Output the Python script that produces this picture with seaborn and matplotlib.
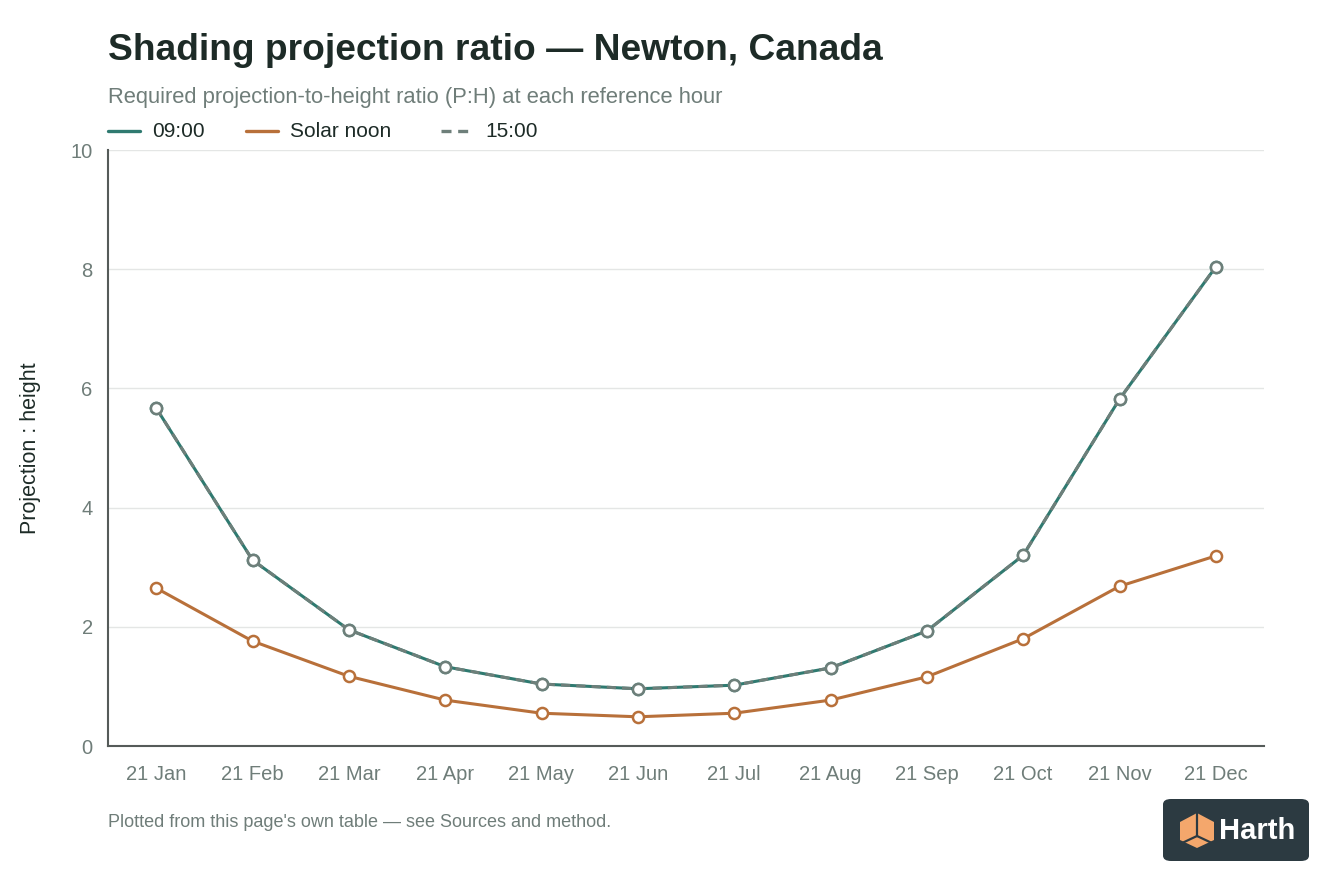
import matplotlib.pyplot as plt
import matplotlib.patches as patches
import pandas as pd
import seaborn as sns

MONTHS = ["21 Jan", "21 Feb", "21 Mar", "21 Apr", "21 May", "21 Jun",
          "21 Jul", "21 Aug", "21 Sep", "21 Oct", "21 Nov", "21 Dec"]
RATIO_0900 = [5.67, 3.12, 1.95, 1.33, 1.04, 0.96, 1.02, 1.31, 1.93, 3.20, 5.82, 8.04]
RATIO_NOON = [2.65, 1.76, 1.17, 0.77, 0.55, 0.49, 0.55, 0.77, 1.16, 1.80, 2.68, 3.19]
RATIO_1500 = [5.67, 3.12, 1.95, 1.33, 1.04, 0.96, 1.02, 1.31, 1.93, 3.20, 5.82, 8.04]
Y_TICKS = [0, 2, 4, 6, 8, 10]

TEAL = "#2f7a70"
ORANGE = "#b8703a"
GREY = "#6e7f7a"
TEXT_DARK = "#1d2b27"
TEXT_GREY = "#6f7d79"


def build_frame():
    rows = []
    for label, values in [("09:00", RATIO_0900), ("Solar noon", RATIO_NOON), ("15:00", RATIO_1500)]:
        for i, v in enumerate(values):
            rows.append({"idx": i, "month": MONTHS[i], "ratio": v, "series": label})
    return pd.DataFrame(rows)


def draw_logo(fig):
    # dark rounded badge bottom right
    x0, y0, w, h = 1163 / 1344, 1 - 861 / 896, 146 / 1344, 62 / 896
    badge = patches.FancyBboxPatch(
        (x0, y0), w, h, boxstyle="round,pad=0,rounding_size=0.006",
        transform=fig.transFigure, facecolor="#2c3a41", edgecolor="none",
    )
    fig.patches.append(badge)
    # simple cube icon
    cx, cy = 1197, 830
    pts = lambda lst: [((cx + dx) / 1344, 1 - (cy + dy) / 896) for dx, dy in lst]
    cube = patches.Polygon(
        pts([(0, -17), (17, -8), (17, 10), (0, 18), (-17, 10), (-17, -8)]),
        closed=True, transform=fig.transFigure, facecolor="#f4a76c", edgecolor="none",
    )
    fig.patches.append(cube)
    for seg in [[(0, -17), (0, 6)], [(0, 6), (-17, 14)], [(0, 6), (17, 14)]]:
        fig.lines.append(plt.Line2D(
            [p[0] for p in pts(seg)], [p[1] for p in pts(seg)],
            transform=fig.transFigure, color="#2c3a41", linewidth=1.6,
        ))
    fig.text(1219 / 1344, 1 - 831 / 896, "Harth", color="white", fontsize=21,
             fontweight="bold", va="center", ha="left")


def create_chart():
    sns.set_theme(style="white")
    plt.rcParams["font.family"] = ["Liberation Sans", "DejaVu Sans"]

    df = build_frame()

    fig = plt.figure(figsize=(13.44, 8.96), dpi=100)
    ax = fig.add_axes([108 / 1344, 1 - 746 / 896, 1156 / 1344, 596 / 896])

    palette = {"09:00": TEAL, "Solar noon": ORANGE, "15:00": GREY}
    dashes = {"09:00": "", "Solar noon": "", "15:00": (3, 2)}
    sns.lineplot(
        data=df, x="idx", y="ratio", hue="series", style="series",
        palette=palette, dashes=dashes, markers={"09:00": "o", "Solar noon": "o", "15:00": "o"},
        markersize=8, markerfacecolor="white", markeredgewidth=1.8,
        linewidth=2.2, ax=ax, legend=False,
    )
    # marker rings take the line colour
    for line in ax.lines:
        line.set_markeredgecolor(line.get_color())

    ax.set_xlim(-0.5, 11.5)
    ax.set_ylim(0, 10)
    ax.set_xticks(range(len(MONTHS)))
    ax.set_xticklabels(MONTHS)
    ax.set_yticks(Y_TICKS)
    ax.set_yticklabels([str(t) for t in Y_TICKS])
    ax.tick_params(axis="x", length=0, labelsize=14.5, labelcolor=TEXT_GREY, pad=14)
    ax.tick_params(axis="y", length=0, labelsize=14.5, labelcolor=TEXT_GREY, pad=11)
    ax.grid(axis="y", color="#e4e6e5", linewidth=1)
    ax.set_axisbelow(True)
    for side in ["top", "right"]:
        ax.spines[side].set_visible(False)
    for side in ["left", "bottom"]:
        ax.spines[side].set_color("#555b59")
        ax.spines[side].set_linewidth(1.5)
    ax.set_xlabel("")
    ax.set_ylabel("Projection : height", fontsize=15.5, color=TEXT_DARK, labelpad=21)

    # title block
    fig.text(108 / 1344, 1 - 51 / 896, "Shading projection ratio \u2014 Newton, Canada",
             fontsize=26.7, fontweight="bold", color=TEXT_DARK, va="center")
    fig.text(108 / 1344, 1 - 97 / 896, "Required projection-to-height ratio (P:H) at each reference hour",
             fontsize=15.8, color=TEXT_GREY, va="center")

    # legend row
    legend_items = [("09:00", TEAL, "-", 108), ("Solar noon", ORANGE, "-", 246), ("15:00", GREY, "--", 441)]
    for label, color, ls, px in legend_items:
        y = 1 - 131 / 896
        fig.lines.append(plt.Line2D([px / 1344, (px + 32) / 1344], [y, y], transform=fig.transFigure,
                                    color=color, linestyle=ls, linewidth=2.4,
                                    dashes=(3, 2) if ls == "--" else (None, None)))
        fig.text((px + 44) / 1344, y, label, fontsize=15, color=TEXT_DARK, va="center")

    fig.text(108 / 1344, 1 - 822 / 896, "Plotted from this page's own table \u2014 see Sources and method.",
             fontsize=13, color=TEXT_GREY, va="center")

    draw_logo(fig)

    fig.savefig("out.png", dpi=100, facecolor="white")


if __name__ == "__main__":
    create_chart()
